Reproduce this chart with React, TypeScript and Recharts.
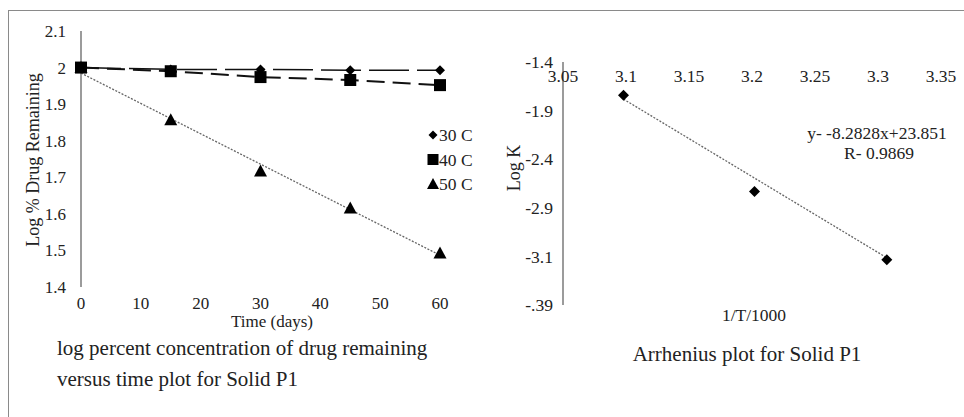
import {
  ComposedChart,
  Line,
  Scatter,
  XAxis,
  YAxis,
  Legend,
} from "recharts";

// stability study: log % drug remaining vs time
const DAYS = [0, 15, 30, 45, 60];
const LOG_30C = [2.0, 1.995, 1.995, 1.993, 1.993];
const LOG_40C = [2.0, 1.99, 1.974, 1.966, 1.952];
const LOG_50C = [2.0, 1.857, 1.717, 1.616, 1.493];
const TREND_50C_DAYS = [0, 60];
const TREND_50C = [1.985, 1.487];
const TIME_TICKS = [0, 10, 20, 30, 40, 50, 60];
const LOG_TICKS = [1.4, 1.5, 1.6, 1.7, 1.8, 1.9, 2, 2.1];

// arrhenius plot
const INV_T = [3.098, 3.202, 3.307];
const LOG_K = [-1.741, -2.733, -3.435];
const TREND_INV_T = [3.098, 3.307];
const TREND_LOG_K = [-1.782, -3.414];
const INV_T_TICKS = [3.05, 3.1, 3.15, 3.2, 3.25, 3.3, 3.35];
const LOG_K_TICKS = [-3.9, -3.4, -2.9, -2.4, -1.9, -1.4];
const LOG_K_LABELS = ["-.39", "-3.1", "-2.9", "-2.4", "-1.9", "-1.4"];

const SERIES = [
  { name: "30 C", values: LOG_30C, shape: "diamond", dash: "40 8", width: 1.5 },
  { name: "40 C", values: LOG_40C, shape: "square", dash: "18 8", width: 2 },
  { name: "50 C", values: LOG_50C, shape: "triangle", dash: "", width: 0 },
];

const FONT = "Liberation Serif, Times New Roman, serif";
const AXIS_GRAY = "#7a7a7a";
const TICK_STYLE = { fontSize: 17, fontFamily: FONT, fill: "#222" };

const toRows = (xs: number[], ys: number[]) => xs.map((x, i) => ({ x, y: ys[i] }));

const Marker = ({ cx, cy, shape, r = 5 }: any) => {
  if (cx == null || cy == null) return null;
  if (shape === "square") {
    return <rect x={cx - r - 0.5} y={cy - r - 0.5} width={2 * r + 1} height={2 * r + 1} fill="#000" />;
  }
  if (shape === "triangle") {
    return (
      <polygon
        points={`${cx},${cy - r - 1} ${cx + r + 1},${cy + r} ${cx - r - 1},${cy + r}`}
        fill="#000"
      />
    );
  }
  return (
    <polygon
      points={`${cx},${cy - r} ${cx + r},${cy} ${cx},${cy + r} ${cx - r},${cy}`}
      fill="#000"
    />
  );
};

const renderLegend = () => (
  <svg width={60} height={72} style={{ overflow: "visible" }}>
    {SERIES.map((s, i) => (
      <g key={s.name}>
        <Marker cx={8} cy={10 + i * 24.5} shape={s.shape} r={s.shape === "diamond" ? 4.5 : 5} />
        <text
          x={14}
          y={10 + i * 24.5}
          dy="0.35em"
          fontSize={17.5}
          fontFamily={FONT}
          fill="#222"
        >
          {s.name}
        </text>
      </g>
    ))}
  </svg>
);

const Texts = () => (
  <svg
    width={964}
    height={417}
    style={{ position: "absolute", left: 0, top: 0, pointerEvents: "none", fontFamily: FONT }}
    fill="#222"
  >
    <text x={33} y={160} fontSize={18} textAnchor="middle" dy="0.35em" transform="rotate(-90 33 160)">
      Log % Drug Remaining
    </text>
    <text x={272} y={321} fontSize={17} textAnchor="middle" dy="0.35em">
      Time (days)
    </text>
    <text x={57} y={355} fontSize={21}>
      log percent concentration of drug remaining
    </text>
    <text x={57} y={386} fontSize={21}>
      versus time plot for Solid P1
    </text>

    <text x={514} y={168} fontSize={18} textAnchor="middle" dy="0.35em" transform="rotate(-90 514 168)">
      Log K
    </text>
    <text x={754} y={315} fontSize={17.5} textAnchor="middle" dy="0.35em">
      1/T/1000
    </text>
    <text x={877} y={133} fontSize={17.5} textAnchor="middle" dy="0.35em">
      y- -8.2828x+23.851
    </text>
    <text x={879} y={153} fontSize={17.5} textAnchor="middle" dy="0.35em">
      R- 0.9869
    </text>
    <text x={747} y={361} fontSize={21} textAnchor="middle">
      Arrhenius plot for Solid P1
    </text>
  </svg>
);

export default function App() {
  return (
    <div
      style={{
        position: "fixed",
        left: 0,
        top: 0,
        width: 964,
        height: 417,
        background: "#fff",
        overflow: "hidden",
        fontFamily: FONT,
      }}
    >
      <div
        style={{
          position: "absolute",
          left: 8,
          top: 10,
          right: -10,
          bottom: -10,
          borderTop: "1.5px solid #8a8a8a",
          borderLeft: "1.5px solid #8a8a8a",
        }}
      />

      <div style={{ position: "absolute", left: 0, top: 0 }}>
        <ComposedChart
          width={480}
          height={417}
          margin={{ top: 31, right: 40, bottom: 129, left: 80 }}
          style={{ fontFamily: FONT }}
        >
          <XAxis
            type="number"
            dataKey="x"
            domain={[0, 60]}
            ticks={TIME_TICKS}
            height={1}
            axisLine={false}
            tickLine={false}
            tickMargin={4}
            tick={TICK_STYLE}
          />
          <YAxis
            type="number"
            dataKey="y"
            domain={[1.4, 2.1]}
            ticks={LOG_TICKS}
            width={1}
            axisLine={{ stroke: AXIS_GRAY, strokeWidth: 1.5 }}
            tickLine={false}
            tickMargin={9}
            tick={TICK_STYLE}
          />
          {SERIES.filter((s) => s.width > 0).map((s) => (
            <Line
              key={`line-${s.name}`}
              data={toRows(DAYS, s.values)}
              dataKey="y"
              stroke="#111"
              strokeWidth={s.width}
              strokeDasharray={s.dash}
              dot={false}
              isAnimationActive={false}
              legendType="none"
            />
          ))}
          <Line
            data={toRows(TREND_50C_DAYS, TREND_50C)}
            dataKey="y"
            stroke="#666"
            strokeWidth={1.3}
            strokeDasharray="2 1.5"
            dot={false}
            isAnimationActive={false}
            legendType="none"
          />
          {SERIES.map((s) => (
            <Scatter
              key={`pts-${s.name}`}
              name={s.name}
              data={toRows(DAYS, s.values)}
              dataKey="y"
              isAnimationActive={false}
              shape={(p: any) => (
                <Marker cx={p.cx} cy={p.cy} shape={s.shape} r={s.shape === "diamond" ? 5 : 5.5} />
              )}
            />
          ))}
          <Legend
            layout="vertical"
            align="center"
            verticalAlign="middle"
            content={renderLegend}
            wrapperStyle={{ position: "absolute", left: 425, top: 125, width: 60 }}
          />
        </ComposedChart>
      </div>

      <div style={{ position: "absolute", left: 480, top: 0 }}>
        <ComposedChart
          width={484}
          height={417}
          margin={{ top: 62, right: 23, bottom: 112, left: 82 }}
          style={{ fontFamily: FONT }}
        >
          <XAxis
            type="number"
            dataKey="x"
            orientation="top"
            mirror
            domain={[3.05, 3.35]}
            ticks={INV_T_TICKS}
            height={1}
            axisLine={false}
            tickLine={false}
            tickMargin={2}
            tick={{ ...TICK_STYLE, fontSize: 17.5 }}
          />
          <YAxis
            type="number"
            dataKey="y"
            domain={[-3.9, -1.4]}
            ticks={LOG_K_TICKS}
            tickFormatter={(v: number) => LOG_K_LABELS[LOG_K_TICKS.indexOf(v)] ?? String(v)}
            width={1}
            axisLine={{ stroke: AXIS_GRAY, strokeWidth: 1.5 }}
            tickLine={false}
            tickMargin={4}
            tick={{ ...TICK_STYLE, fontSize: 17.5 }}
          />
          <Line
            data={toRows(TREND_INV_T, TREND_LOG_K)}
            dataKey="y"
            stroke="#666"
            strokeWidth={1.3}
            strokeDasharray="2 1.5"
            dot={false}
            isAnimationActive={false}
          />
          <Scatter
            data={toRows(INV_T, LOG_K)}
            dataKey="y"
            isAnimationActive={false}
            shape={(p: any) => <Marker cx={p.cx} cy={p.cy} shape="diamond" r={5.5} />}
          />
        </ComposedChart>
      </div>

      <Texts />
    </div>
  );
}
